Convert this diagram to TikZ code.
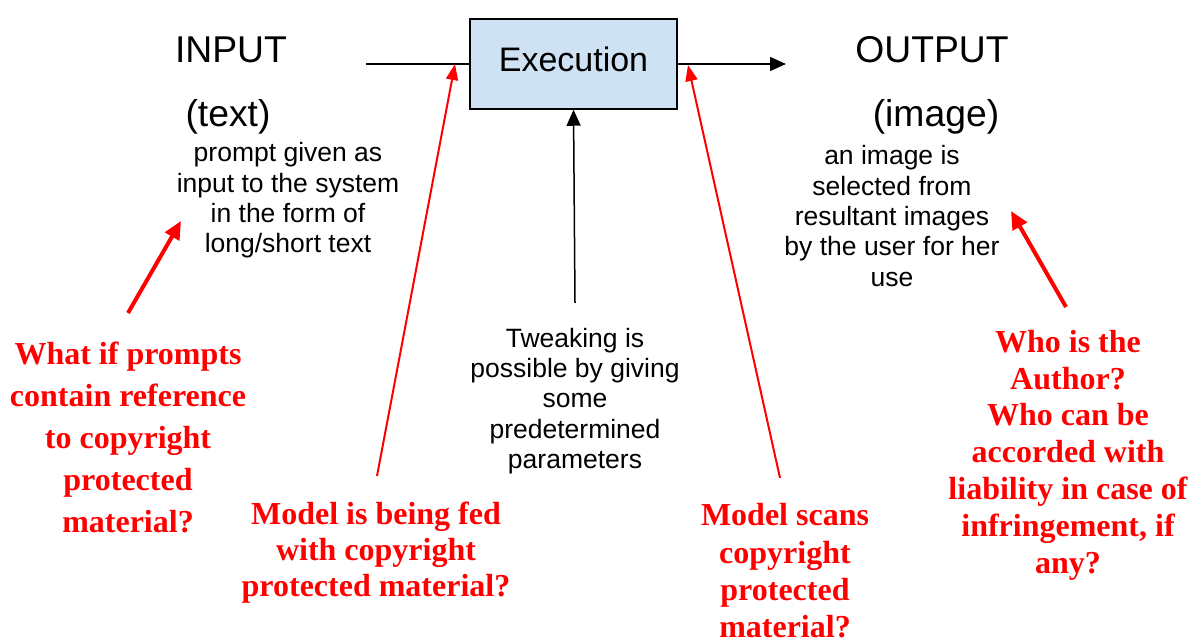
\documentclass[tikz,border=0pt]{standalone}
\usepackage{fontspec}
\setmainfont{Liberation Sans}
\newfontfamily\qserif{Liberation Serif}
\usetikzlibrary{arrows.meta}
\definecolor{boxblue}{HTML}{CFE2F3}
\definecolor{alertred}{HTML}{FF0000}

\tikzset{
  heading/.style={inner sep=0pt, font=\fontsize{37.3}{40}\selectfont},
  note/.style={inner sep=0pt, align=center, font=\fontsize{26.5}{30.3}\selectfont},
  question/.style={inner sep=0pt, align=center, text=alertred,
    font=\qserif\bfseries\fontsize{32}{#1}\selectfont},
  question/.default=37,
  flow/.style={line width=1.5pt, -{Triangle[length=16pt,width=14pt]}},
  link/.style={line width=1.5pt},
  thinred/.style={alertred, line width=2pt, -{Triangle[length=16pt,width=12pt]}},
  thickred/.style={alertred, line width=4pt, -{Triangle[length=18pt,width=16pt]}},
}

\begin{document}
\begin{tikzpicture}[x=1pt, y=-1pt]
\useasboundingbox (0,0) rectangle (1190,639);

% central process box
\node[draw, line width=1.5pt, fill=boxblue, minimum width=207pt, minimum height=90pt,
      inner sep=0pt, text depth=9pt, font=\fontsize{34}{40}\selectfont]
  (exec) at (573.5,64) {Execution};

% input side
\node[heading] (inhead) at (231,50) {INPUT};
\node[heading] (intype) at (228,117) {(text)};
\node[note] (indesc) at (288,200.5) {prompt given as\\input to the system\\in the form of\\long/short text};

% output side
\node[heading] (outhead) at (932,50) {OUTPUT};
\node[heading] (outtype) at (936,117) {(image)};
\node[note] (outdesc) at (892,216) {an image is\\selected from\\resultant images\\by the user for her\\use};

% tweaking below the box
\node[note] (tweak) at (575,401) {Tweaking is\\possible by giving\\some\\predetermined\\parameters};

% questions
\node[question=42] (q1) at (128,437.5) {What if prompts\\contain reference\\to copyright\\protected\\material?};
\node[question=36] (q2) at (376,553) {Model is being fed\\with copyright\\protected material?};
\node[question=37.3] (q3) at (785,571) {Model scans\\copyright\\protected\\material?};
\node[question=36.8] (q4) at (1068,455) {Who is the\\Author?\\Who can be\\accorded with\\liability in case of\\infringement, if\\any?};

% main flow
\coordinate (instart) at (366,64);
\coordinate (outend) at (786,64);
\coordinate (tweaktop) at (575,303);
\draw[link] (instart) -- (exec.west);
\draw[flow] (exec.east) -- (outend);
\draw[flow] (tweaktop) -- (exec.south);

% question pointers
\coordinate (q1tail) at (128,313);
\coordinate (q1tip) at (181,221);
\coordinate (q2tail) at (377,476);
\coordinate (q2tip) at (455,64);
\coordinate (q3tail) at (780,478);
\coordinate (q3tip) at (688,65);
\coordinate (q4tail) at (1066,307);
\coordinate (q4tip) at (1011,211);
\draw[thickred] (q1tail) -- (q1tip);
\draw[thinred] (q2tail) -- (q2tip);
\draw[thinred] (q3tail) -- (q3tip);
\draw[thickred] (q4tail) -- (q4tip);
\end{tikzpicture}
\end{document}
